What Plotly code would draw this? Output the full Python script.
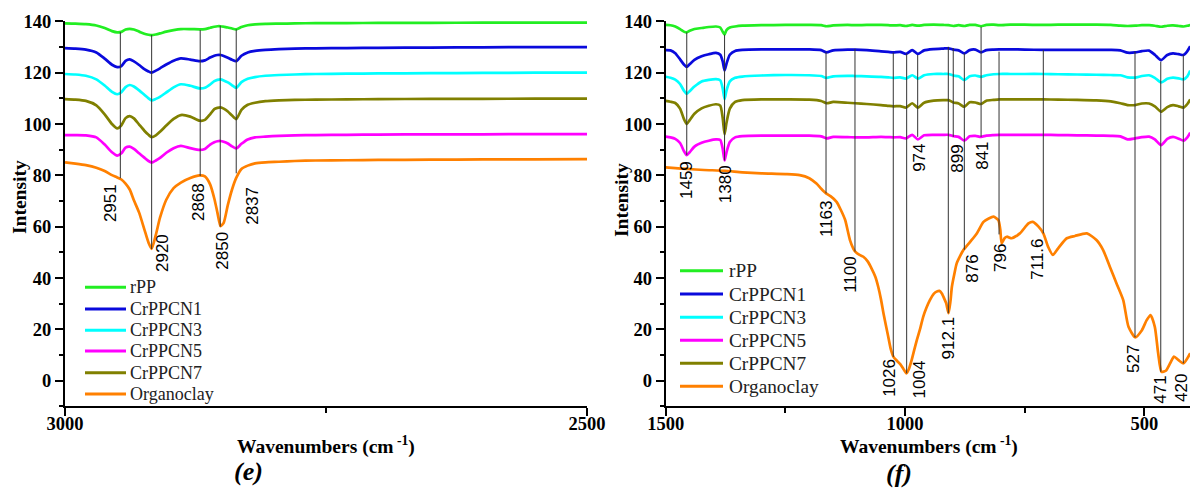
import plotly.graph_objects as go

W, H = 1190, 488

names = ['rPP', 'CrPPCN1', 'CrPPCN3', 'CrPPCN5', 'CrPPCN7', 'Organoclay']
colors = ['#22EE22', '#0A0ADC', '#00FFFF', '#FF00FF', '#808000', '#FF8000']

# ---------------- panel (e): 3000-2500 cm-1 ----------------
left_wn = [3000, 2990, 2980, 2970, 2962, 2955, 2950, 2946, 2942, 2938, 2934, 2929, 2924, 2920, 2917,
           2913, 2909, 2903, 2896, 2889, 2880, 2871, 2866, 2861, 2857, 2854, 2851, 2848, 2844, 2840,
           2836, 2831, 2825, 2818, 2808, 2795, 2780, 2760, 2730, 2700, 2650, 2600, 2550, 2500]
left_rpp = [139.2, 139.1, 138.9, 138.4, 137.4, 136.2, 135.7, 135.9, 136.8, 137.1, 136.8, 136.0, 135.2, 134.8, 134.6,
            134.9, 135.3, 136.0, 136.6, 137.0, 137.0, 136.9, 137.0, 137.5, 137.9, 138.1, 138.1, 137.9, 137.6, 137.2,
            136.9, 137.8, 138.5, 138.8, 139.0, 139.1, 139.2, 139.3, 139.3, 139.4, 139.4, 139.5, 139.5, 139.5]
left_cn1 = [129.6, 129.4, 129.0, 127.9, 125.5, 123.1, 122.2, 122.6, 124.6, 125.2, 124.4, 123.0, 121.4, 120.5, 120.0,
            120.8, 121.7, 123.2, 124.7, 125.6, 125.1, 124.5, 124.8, 125.9, 126.6, 126.9, 126.9, 126.5, 125.8, 125.0,
            124.5, 126.6, 127.9, 128.5, 128.9, 129.2, 129.4, 129.5, 129.6, 129.7, 129.8, 129.9, 130.0, 130.0]
left_cn3 = [119.5, 119.3, 118.8, 117.4, 115.0, 112.5, 111.6, 112.4, 114.4, 115.2, 114.6, 113.1, 111.4, 110.0, 109.2,
            109.8, 110.6, 112.3, 114.3, 115.5, 114.9, 113.9, 114.1, 115.4, 116.7, 117.2, 117.4, 117.0, 116.2, 115.1,
            114.1, 116.3, 117.6, 118.3, 118.8, 119.1, 119.3, 119.5, 119.6, 119.7, 119.8, 119.9, 120.0, 120.0]
left_cn5 = [95.7, 95.7, 95.6, 94.8, 92.0, 89.0, 87.7, 88.6, 90.8, 91.2, 90.3, 88.6, 86.9, 85.6, 85.0,
            85.8, 86.8, 88.8, 90.6, 91.5, 90.6, 89.9, 90.3, 92.0, 92.9, 93.3, 93.4, 93.1, 92.4, 91.3,
            90.5, 92.3, 94.0, 94.8, 95.1, 95.4, 95.6, 95.7, 95.8, 95.9, 96.0, 96.0, 96.1, 96.1]
left_cn7 = [109.7, 109.5, 109.0, 107.3, 103.8, 100.0, 98.3, 99.5, 102.3, 103.1, 102.2, 99.8, 97.4, 95.8, 94.9,
            95.6, 97.0, 99.4, 102.0, 103.5, 102.9, 101.3, 101.6, 103.8, 105.8, 106.3, 106.5, 106.0, 104.9, 103.3,
            101.9, 105.5, 107.5, 108.3, 108.9, 109.2, 109.4, 109.5, 109.6, 109.7, 109.8, 109.8, 109.9, 109.9]
left_clay = [85.1, 84.6, 84.0, 83.0, 81.7, 80.1, 79.2, 78.4, 76.8, 74.5, 70.3, 65.5, 59.0, 53.8, 51.4,
             56.8, 63.5, 70.5, 75.0, 77.2, 79.0, 80.0, 79.6, 76.5, 71.0, 65.5, 60.2, 61.5, 68.5, 74.5,
             79.0, 82.5, 83.8, 84.7, 85.1, 85.3, 85.6, 85.8, 85.9, 86.0, 86.1, 86.2, 86.2, 86.3]

left_peak_text = ['2951', '2920', '2868', '2850', '2837']
left_peak_wn = [2947, 2917, 2870.5, 2851.3, 2836]
left_peak_top = [135.8, 134.7, 136.6, 138.3, 136.9]
left_peak_bottom = [78.9, 51.3, 79.7, 60.0, 80.8]
left_label_wn = [2956.9, 2906.5, 2871.4, 2850.0, 2820.3]
left_label_y = [69.2, 49.6, 69.7, 50.5, 68.0]

# ---------------- panel (f): 1500-400 cm-1 ----------------
right_wn = [1500, 1490, 1480, 1470, 1462, 1456, 1450, 1440, 1425, 1410, 1395, 1386, 1381, 1377, 1373, 1366, 1355, 1340,
            1300, 1250, 1200, 1175, 1164, 1150, 1120, 1104, 1080, 1050,
            1035, 1024, 1010, 998, 985, 973, 960, 940, 920, 909,
            899, 888, 876, 865, 853, 841, 830, 815, 803, 780,
            750, 711, 680, 640, 600, 570, 550, 535, 519, 505,
            490, 478, 465, 452, 440, 428, 418, 410, 404]
right_rpp = [138.6, 138.5, 138.0, 137.0, 136.0, 135.7, 136.3, 137.0, 137.4, 137.8, 138.0, 137.6, 136.0, 134.8, 136.6, 137.6, 138.0, 138.3,
             138.5, 138.6, 138.6, 138.5, 138.1, 138.4, 138.6, 138.5, 138.6, 138.6,
             138.5, 138.4, 138.5, 138.2, 138.6, 138.3, 138.6, 138.7, 138.6, 138.5,
             138.2, 138.5, 138.2, 138.6, 138.6, 138.1, 138.6, 138.7, 138.5, 138.7,
             138.7, 138.6, 138.7, 138.7, 138.7, 138.6, 138.3, 138.2, 138.3, 138.5,
             138.5, 138.3, 137.9, 138.3, 138.4, 138.2, 138.0, 138.3, 138.6]
right_cn1 = [128.8, 128.7, 127.6, 125.2, 123.2, 122.3, 123.3, 125.0, 126.4, 127.2, 127.7, 127.0, 124.5, 120.9, 123.5, 127.0, 128.5, 128.9,
             129.1, 129.1, 129.1, 128.8, 127.9, 128.7, 129.0, 129.0, 128.8, 128.3,
             128.1, 127.9, 128.1, 127.3, 128.8, 127.3, 128.7, 129.2, 129.4, 129.5,
             129.0, 128.7, 127.5, 128.8, 129.0, 127.9, 128.8, 129.0, 129.1, 129.1,
             129.0, 128.9, 128.9, 128.9, 128.9, 128.9, 128.7, 127.8, 127.9, 128.4,
             128.6, 127.0, 124.9, 126.9, 127.5, 127.2, 126.9, 128.4, 130.3]
right_cn3 = [118.4, 118.0, 117.3, 115.6, 113.0, 111.8, 112.8, 114.6, 116.6, 117.2, 117.5, 117.0, 114.0, 109.7, 113.0, 116.6, 118.0, 118.5,
             118.9, 119.1, 119.0, 118.7, 118.0, 118.6, 118.8, 118.7, 118.6, 118.4,
             118.2, 118.0, 118.2, 117.7, 119.0, 117.7, 119.0, 119.5, 119.5, 119.5,
             118.9, 118.6, 117.1, 118.6, 118.9, 118.4, 119.0, 119.4, 119.5, 119.5,
             119.5, 119.5, 119.4, 119.3, 119.2, 119.1, 119.0, 118.2, 118.1, 118.7,
             119.0, 118.0, 116.2, 117.6, 118.1, 117.8, 117.4, 118.6, 120.8]
right_cn5 = [95.1, 94.8, 94.2, 92.6, 89.5, 87.9, 89.0, 91.2, 92.7, 93.5, 94.0, 93.8, 90.5, 85.8, 89.0, 93.0, 94.8, 95.3,
             95.5, 95.5, 95.5, 95.2, 94.4, 95.0, 94.9, 94.8, 94.8, 95.0,
             94.9, 94.8, 94.9, 94.4, 95.8, 94.0, 95.6, 95.8, 95.8, 95.8,
             95.3, 95.0, 93.5, 95.2, 95.4, 95.0, 95.5, 95.7, 95.8, 95.8,
             95.8, 95.8, 95.7, 95.6, 95.5, 95.4, 95.2, 94.0, 94.4, 94.9,
             95.1, 94.0, 91.8, 94.2, 95.0, 94.3, 93.5, 94.8, 96.6]
right_cn7 = [109.0, 108.7, 108.2, 106.0, 102.0, 100.0, 101.5, 104.0, 106.1, 107.1, 107.7, 107.2, 102.5, 96.0, 100.5, 106.0, 108.6, 109.3,
             109.6, 109.6, 109.5, 109.0, 108.1, 108.6, 108.3, 108.1, 107.8, 107.4,
             107.1, 106.9, 107.0, 106.4, 108.1, 106.4, 108.3, 109.1, 109.3, 109.3,
             108.4, 108.0, 106.7, 108.5, 108.4, 107.8, 109.1, 109.4, 109.6, 109.6,
             109.6, 109.6, 109.5, 109.4, 109.2, 108.8, 108.1, 107.4, 107.4, 108.0,
             108.0, 106.9, 104.8, 106.6, 107.4, 106.9, 106.4, 107.8, 109.6]

clay_wn = [1500, 1480, 1456, 1420, 1377, 1340, 1300, 1250, 1220, 1200, 1185, 1175, 1165, 1155, 1143, 1134, 1125,
           1115, 1108, 1104, 1095, 1087, 1078, 1070, 1062, 1056, 1050, 1045, 1035, 1030, 1024, 1017, 1010,
           1003, 997, 992, 986, 980, 975, 968, 962, 955, 948, 940, 934, 928, 923, 918, 914, 909, 905,
           902, 897, 892, 885, 878, 864, 850, 836, 825, 815, 805, 801, 798, 792, 787, 777, 760, 742,
           733, 721, 711, 701, 691, 680, 662, 645, 620, 600, 586, 572, 558, 544, 533, 519, 505, 495,
           487, 478, 471, 464, 455, 446, 438, 429, 418, 404]
clay_f = [83.1, 82.8, 82.5, 82.1, 81.8, 81.2, 80.8, 80.5, 80.1, 78.9, 76.8, 74.8, 73.0, 71.8, 69.7, 66.5, 62.6,
          54.8, 51.5, 50.3, 49.0, 48.3, 46.5, 43.8, 40.5, 36.6, 31.5, 26.3, 17.1, 12.5, 9.3, 7.8, 6.5,
          4.5, 2.9, 4.5, 8.1, 12.5, 16.0, 20.5, 24.9, 28.5, 31.4, 33.8, 34.7, 35.0, 34.0, 32.0, 30.2, 26.3, 31.0,
          36.6, 41.5, 45.7, 48.5, 50.9, 54.1, 57.4, 61.9, 63.2, 63.9, 62.6, 59.0, 53.5, 55.5, 56.1, 55.5, 57.4, 61.3,
          61.9, 60.0, 57.4, 52.2, 49.0, 51.6, 55.5, 56.4, 57.4, 54.8, 50.9, 44.4, 37.9, 31.4, 21.0, 16.9, 19.7, 23.6,
          25.6, 21.0, 10.7, 3.5, 3.9, 6.8, 9.4, 8.1, 6.8, 10.7]

right_peak_text = ['1459', '1380', '1163', '1100', '1026', '1004', '974', '912.1', '899', '876',
                   '841', '796', '711.6', '527', '471', '420']
right_peak_wn = [1456, 1377, 1165, 1104.5, 1024.5, 996.5, 973.5, 909.5, 899.2, 876,
                 841, 803.5, 711, 519.4, 465.6, 418.5]
right_peak_top = [135.7, 134.8, 128.0, 129.3, 127.8, 127.5, 126.9, 130.1, 129.6, 127.6,
                  137.9, 128.2, 128.8, 128.2, 124.3, 126.9]
right_peak_bottom = [87.9, 85.8, 73.0, 50.3, 9.3, 2.9, 95.0, 26.3, 95.0, 51.0,
                     95.0, 57.0, 57.4, 16.9, 3.5, 6.8]
right_label_wn = [1455.5, 1376, 1165, 1113, 1031.5, 968.8, 968.8, 909.5, 889.9, 860.6,
                  839.8, 801.5, 724.8, 521.5, 465.6, 421]
right_label_y = [78.2, 76.6, 63.0, 41.6, 1.1, 0.5, 86.8, 16.6, 86.4, 43.5,
                 87.5, 47.8, 47.4, 8.5, -3.6, -2.8]

yticks = [0, 20, 40, 60, 80, 100, 120, 140]
yminor = [-10, 10, 30, 50, 70, 90, 110, 130]

# ---------------- build figure ----------------
fig = go.Figure()

left_series = [left_rpp, left_cn1, left_cn3, left_cn5, left_cn7, left_clay]
for nm, col, ys in zip(names, colors, left_series):
    fig.add_trace(go.Scatter(x=left_wn, y=ys, name=nm, mode='lines', xaxis='x', yaxis='y',
                             line=dict(color=col, width=2.7, shape='spline', smoothing=0.6),
                             showlegend=False, hoverinfo='skip'))

right_series = [(right_wn, right_rpp), (right_wn, right_cn1), (right_wn, right_cn3),
                (right_wn, right_cn5), (right_wn, right_cn7), (clay_wn, clay_f)]
for nm, col, (xs, ys) in zip(names, colors, right_series):
    fig.add_trace(go.Scatter(x=xs, y=ys, name=nm, mode='lines', xaxis='x2', yaxis='y2',
                             line=dict(color=col, width=2.7, shape='spline', smoothing=0.6),
                             showlegend=False, hoverinfo='skip'))

shapes = []
annotations = []
peak_font = dict(family='Liberation Sans', size=17, color='black')

for xs, tops, bots, xr, yr in [(left_peak_wn, left_peak_top, left_peak_bottom, 'x', 'y'),
                               (right_peak_wn, right_peak_top, right_peak_bottom, 'x2', 'y2')]:
    for xv, t, b in zip(xs, tops, bots):
        shapes.append(dict(type='line', xref=xr, yref=yr, x0=xv, x1=xv, y0=b, y1=t,
                           line=dict(color='#333333', width=1)))

for txts, lx, ly, xr, yr in [(left_peak_text, left_label_wn, left_label_y, 'x', 'y'),
                             (right_peak_text, right_label_wn, right_label_y, 'x2', 'y2')]:
    for t, xv, yv in zip(txts, lx, ly):
        annotations.append(dict(text=t, x=xv, y=yv, xref=xr, yref=yr, showarrow=False,
                                textangle=-90, xanchor='center', yanchor='middle', font=peak_font))


def px(xp, yp):
    return xp / W, 1 - yp / H


# legends (drawn manually)
legend_specs = [
    dict(x0=85, x1=126, tx=128, rows=[287.3, 309.0, 330.3, 351.0, 372.7, 394.0], size=18),
    dict(x0=680, x1=723, tx=727, rows=[270.7, 294.0, 317.3, 340.3, 363.3, 386.3], size=19.3),
]
for spec in legend_specs:
    for nm, col, ry in zip(names, colors, spec['rows']):
        xa, ya = px(spec['x0'], ry)
        xb, _ = px(spec['x1'], ry)
        shapes.append(dict(type='line', xref='paper', yref='paper', x0=xa, x1=xb, y0=ya, y1=ya,
                           line=dict(color=col, width=3)))
        tx, ty = px(spec['tx'], ry)
        annotations.append(dict(text=nm, x=tx, y=ty, xref='paper', yref='paper', showarrow=False,
                                xanchor='left', yanchor='middle',
                                font=dict(family='Liberation Serif', size=spec['size'], color='#222222')))

title_font = dict(family='Liberation Serif', size=19.5, color='black', weight='bold')
for (xp, yp) in [(19, 197), (621, 200)]:
    ax, ay = px(xp, yp)
    annotations.append(dict(text='Intensity', x=ax, y=ay, xref='paper', yref='paper', showarrow=False,
                            textangle=-90, xanchor='center', yanchor='middle', font=title_font))
for (xp, yp) in [(326, 445), (929, 445)]:
    ax, ay = px(xp, yp)
    annotations.append(dict(text='Wavenumbers (cm<sup> -1</sup>)', x=ax, y=ay, xref='paper', yref='paper',
                            showarrow=False, xanchor='center', yanchor='middle', font=title_font))
for t, (xp, yp) in [('<i>(e)</i>', (248, 471)), ('<i>(f)</i>', (899, 473))]:
    ax, ay = px(xp, yp)
    annotations.append(dict(text=t, x=ax, y=ay, xref='paper', yref='paper', showarrow=False,
                            xanchor='center', yanchor='middle',
                            font=dict(family='Liberation Serif', size=26, color='black', weight='bold')))

tickfont = dict(family='Liberation Serif', size=18.5, color='black', weight='bold')
ydom = [1 - 406.4 / H, 1 - 21.1 / H]
common_x = dict(ticks='outside', ticklen=8, tickwidth=2, tickcolor='black', showline=True, linewidth=2,
                linecolor='black', showgrid=False, zeroline=False, tickfont=tickfont, tickmode='array',
                automargin=False, ticklabelstandoff=-9)
common_y = dict(ticks='outside', ticklen=8, tickwidth=2, tickcolor='black', showline=True, linewidth=2,
                linecolor='black', showgrid=False, zeroline=False, tickfont=tickfont, tickmode='array',
                automargin=False,
                range=[-10, 140.1], tickvals=yticks, domain=ydom,
                minor=dict(tickmode='array', tickvals=yminor, ticks='outside', ticklen=4, tickwidth=2,
                           tickcolor='black'))

fig.update_layout(
    width=W, height=H, autosize=False,
    margin=dict(l=0, r=0, t=0, b=0, pad=0),
    paper_bgcolor='white', plot_bgcolor='white',
    xaxis=dict(common_x, domain=[65 / W, 587 / W], range=[3000, 2500], tickvals=[3000, 2500], anchor='y',
               minor=dict(tickmode='array', tickvals=[2750], ticks='outside', ticklen=5, tickwidth=2,
                          tickcolor='black')),
    yaxis=dict(common_y, anchor='x'),
    xaxis2=dict(common_x, domain=[665.7 / W, 1.0], range=[1500, 404.5], tickvals=[1500, 1000, 500], anchor='y2',
                minor=dict(tickmode='array', tickvals=[1250, 750], ticks='outside', ticklen=5, tickwidth=2,
                           tickcolor='black')),
    yaxis2=dict(common_y, anchor='x2'),
    shapes=shapes,
    annotations=annotations,
    showlegend=False,
)

fig.write_html('out.html')
